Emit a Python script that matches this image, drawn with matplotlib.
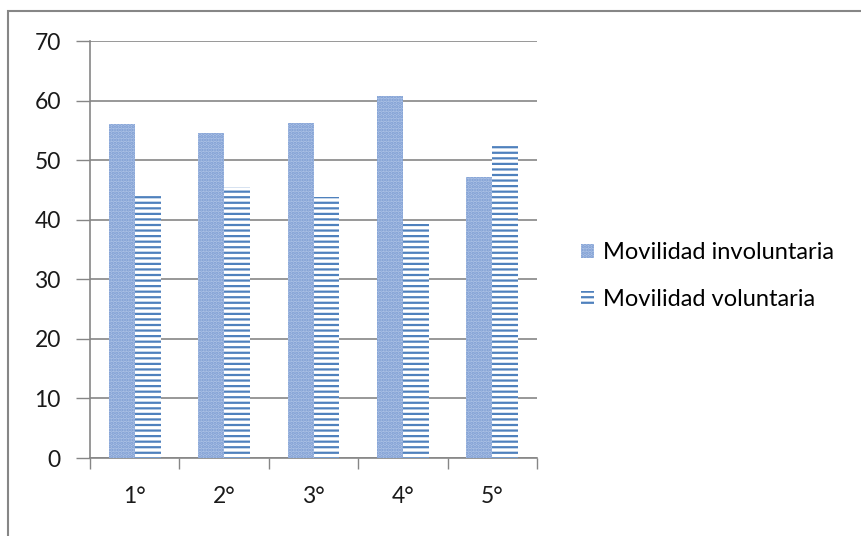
import matplotlib.pyplot as plt
import numpy as np
from matplotlib.patches import Patch, Rectangle

plt.rcParams['font.family'] = ['Lato', 'DejaVu Sans']
plt.rcParams['hatch.linewidth'] = 1.6

cursos = ['1°', '2°', '3°', '4°', '5°']
involuntaria = [56.0, 54.5, 56.2, 60.7, 47.1]
voluntaria = [44.0, 45.5, 43.8, 39.3, 52.9]

azul = '#4f81bd'
gris = '#868686'
texto = '#1a1a1a'

fig = plt.figure(figsize=(8.62, 5.36), dpi=100)
# marco del grafico
fig.patches.append(Rectangle((0.009, -0.01), 1.0, 0.99, transform=fig.transFigure,
                             fill=False, edgecolor=gris, linewidth=1.5))
ax = fig.add_axes([0.1044, 0.1455, 0.5186, 0.778])

x = np.arange(len(cursos))
w = 0.29
ax.bar(x - w / 2, involuntaria, w, color='#adc2e5', hatch='.....',
       edgecolor='#7a9bd2', linewidth=0, zorder=3)
ax.bar(x + w / 2, voluntaria, w, color='white', hatch='---',
       edgecolor=azul, linewidth=0, zorder=3)

ax.set_xlim(-0.5, 4.5)
ax.set_ylim(0, 70)
ax.set_yticks(range(0, 71, 10))
ax.yaxis.grid(True, color=gris, linewidth=1.2, zorder=0)
ax.set_xticks(np.arange(-0.5, 5, 1))
ax.set_xticklabels([])
ax.set_xticks(x, minor=True)
ax.set_xticklabels(cursos, minor=True)
ax.tick_params(axis='x', which='major', length=8, color=gris, width=1)
ax.tick_params(axis='x', which='minor', length=0, pad=20, labelsize=16.5, labelcolor=texto)
ax.tick_params(axis='y', length=10, color=gris, width=1, pad=11, labelsize=16.5,
               labelcolor=texto)

for lado in ['top', 'right']:
    ax.spines[lado].set_visible(False)
for lado in ['left', 'bottom']:
    ax.spines[lado].set_color(gris)
    ax.spines[lado].set_linewidth(1.2)

handles = [Patch(facecolor='#adc2e5', hatch='.....', edgecolor='#7a9bd2', linewidth=0),
           Patch(facecolor='white', hatch='---', edgecolor=azul, linewidth=0)]
fig.legend(handles, ['Movilidad involuntaria', 'Movilidad voluntaria'],
           loc='center left', bbox_to_anchor=(0.66, 0.485), frameon=False,
           fontsize=17, handlelength=0.55, handleheight=0.55, handletextpad=0.4,
           labelspacing=1.1, borderpad=0)

fig.savefig('out.png', dpi=100)
